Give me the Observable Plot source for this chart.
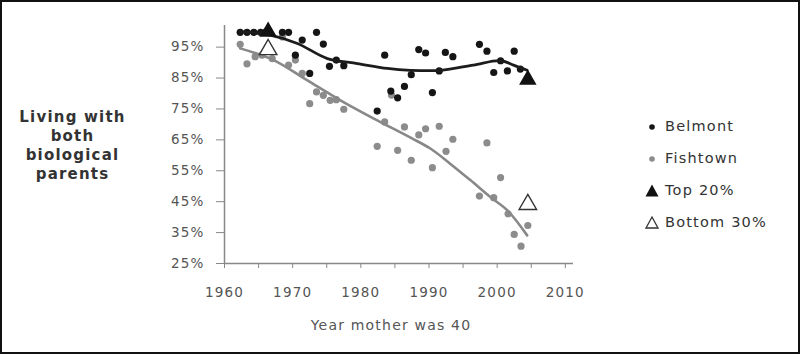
<!DOCTYPE html>
<html>
<head>
<meta charset="utf-8">
<script src="https://cdn.jsdelivr.net/npm/d3@7"></script>
<script src="https://cdn.jsdelivr.net/npm/@observablehq/plot@0.6"></script>
<style>
  html, body { margin: 0; padding: 0; background: #fff; }
  #wrap { position: relative; width: 800px; height: 354px; overflow: hidden; background: #fff; }
  #frame { position: absolute; left: 0; top: 0; width: 800px; height: 354px; box-sizing: border-box; border: 2px solid #111; pointer-events: none; }
  #wrap svg text { letter-spacing: 1.2px; }
  #legend { position: absolute; left: 643px; top: 116px; font-family: "DejaVu Sans", sans-serif; font-size: 14.5px; color: #333; letter-spacing: 1.2px; }
  .item { position: relative; height: 32px; line-height: 20px; }
  .item svg { position: absolute; left: 0; top: 2px; }
  .item span { position: absolute; left: 22px; top: 0; white-space: nowrap; }
</style>
</head>
<body>
<div id="wrap"></div>
<script>
// Belmont (year mother was 40, % living with both biological parents)
const belmontYear = [1962.3,1963.3,1964.3,1965.3,1966.0,1968.5,1969.4,1971.4,1973.5,1974.5,1970.4,1972.5,1975.4,1976.4,1977.5,1983.5,1982.4,1984.4,1985.4,1986.4,1987.4,1988.5,1989.5,1990.5,1991.5,1992.4,1993.5,1997.4,1998.5,1999.5,2000.5,2001.5,2002.5,2003.4];
const belmontPct  = [99.8,99.8,99.8,99.8,99.8,99.8,99.8,97.3,99.8,96.0,92.4,86.5,88.8,90.8,89.0,92.4,74.3,80.8,78.6,82.3,86.1,94.2,93.1,80.3,87.3,93.3,91.9,95.9,93.7,86.8,90.6,87.3,93.7,87.9];

// Fishtown
const fishYear = [1962.3,1963.3,1964.5,1965.5,1967.0,1968.5,1969.4,1970.4,1971.4,1972.5,1973.5,1974.5,1975.5,1976.4,1977.5,1982.4,1983.5,1984.5,1985.4,1986.4,1987.4,1988.5,1989.5,1990.5,1991.5,1992.5,1993.5,1997.4,1998.5,1999.5,2000.5,2001.6,2002.5,2003.5,2004.5];
const fishPct  = [95.9,89.6,91.9,92.4,91.3,98.3,89.2,90.8,86.5,76.7,80.5,79.4,77.8,78.0,74.9,62.9,70.8,79.5,61.6,69.2,58.4,66.6,68.6,56.0,69.4,61.3,65.2,46.8,64.0,46.3,52.8,41.1,34.4,30.6,37.3];

// Trend lines
const belmontTrendYear = [1962.3,1966.7,1970.7,1975.1,1979.5,1983.9,1987.3,1991.7,1996.5,2000.5,2002.4,2004.4];
const belmontTrendPct  = [100.0,98.9,96.2,91.3,89.7,88.1,87.5,87.5,89.2,90.6,89.2,87.5];
const fishTrendYear = [1962.3,1967.2,1972.1,1977.0,1981.9,1987.3,1990.2,1993.1,1996.1,1999.0,2001.5,2004.4];
const fishTrendPct  = [94.6,90.8,84.3,77.8,71.9,65.7,62.2,57.3,51.9,46.5,42.2,34.1];

// National benchmarks
const top20Year = [1966.4, 2004.5];
const top20Pct  = [100.0, 84.5];
const bottom30Year = [1966.4, 2004.5];
const bottom30Pct  = [94.2, 44.1];

// Axes
const yTicks = [25,35,45,55,65,75,85,95];
const xTicks = [1960,1965,1970,1975,1980,1985,1990,1995,2000,2005,2010];
const yLabel = "Living with\nboth\nbiological\nparents";
const xLabel = "Year mother was 40";
const legendNames = ["Belmont","Fishtown","Top 20%","Bottom 30%"];

const zip = (xs, ys) => xs.map((x, i) => ({x, y: ys[i]}));
const belmont = zip(belmontYear, belmontPct);
const fish = zip(fishYear, fishPct);
const belmontTrend = zip(belmontTrendYear, belmontTrendPct);
const fishTrend = zip(fishTrendYear, fishTrendPct);
const top20 = zip(top20Year, top20Pct);
const bottom30 = zip(bottom30Year, bottom30Pct);

const axisColor = "#888";
const textColor = "#555";

const plot = Plot.plot({
  width: 800,
  height: 354,
  marginLeft: 224,
  marginRight: 227,
  marginTop: 25,
  marginBottom: 91,
  style: {fontFamily: "DejaVu Sans, sans-serif", fontSize: "13.5px", color: textColor, background: "transparent"},
  x: {domain: [1960, 2011.2]},
  y: {domain: [25, 102]},
  marks: [
    Plot.ruleY([25], {x1: 1960, x2: 2011.2, stroke: axisColor, strokeWidth: 1.5}),
    Plot.ruleX([1960], {y1: 25, y2: 102, stroke: axisColor, strokeWidth: 1.5}),
    Plot.axisY({ticks: yTicks, tickFormat: d => d + "%", tickSize: 8, tickPadding: 12, label: null, stroke: axisColor, fill: textColor}),
    Plot.axisX({ticks: xTicks, tickFormat: d => d % 10 === 0 ? String(d) : "", tickSize: 5, tickPadding: 19, label: null, stroke: axisColor, fill: textColor}),
    Plot.text([xLabel], {frameAnchor: "bottom", dx: -8, dy: 66, fontSize: 14, fill: textColor, textAnchor: "middle"}),
    Plot.text([yLabel], {frameAnchor: "left", dx: -152, dy: 0, fontSize: 15, fontWeight: "bold", fill: "#333", textAnchor: "middle", lineHeight: 1.27}),
    Plot.dot(fish, {x: "x", y: "y", r: 3.6, fill: "#8c8c8c", stroke: "none"}),
    Plot.line(fishTrend, {x: "x", y: "y", stroke: "#888", strokeWidth: 2.6, curve: "catmull-rom"}),
    Plot.dot(belmont, {x: "x", y: "y", r: 3.6, fill: "#151515", stroke: "none"}),
    Plot.line(belmontTrend, {x: "x", y: "y", stroke: "#1c1c1c", strokeWidth: 2.8, curve: "catmull-rom"}),
    Plot.dot(top20, {x: "x", y: "y", symbol: "triangle", r: 6.5, fill: "#111", stroke: "none"}),
    Plot.dot(bottom30, {x: "x", y: "y", symbol: "triangle", r: 6.5, fill: "#fff", stroke: "#333", strokeWidth: 1.4})
  ]
});

const wrap = document.getElementById("wrap");
wrap.appendChild(plot);

// Legend
const legend = document.createElement("div");
legend.id = "legend";
const markers = [
  '<svg width="18" height="18"><circle cx="9" cy="9" r="2.8" fill="#151515"/></svg>',
  '<svg width="18" height="18"><circle cx="9" cy="9" r="2.8" fill="#8c8c8c"/></svg>',
  '<svg width="18" height="18"><path d="M9,2.5 L15.5,14.5 L2.5,14.5 Z" fill="#111"/></svg>',
  '<svg width="18" height="18"><path d="M9,3 L15,14 L3,14 Z" fill="#fff" stroke="#333" stroke-width="1.3"/></svg>'
];
legendNames.forEach((name, i) => {
  const it = document.createElement("div");
  it.className = "item";
  it.innerHTML = markers[i] + "<span>" + name + "</span>";
  legend.appendChild(it);
});
wrap.appendChild(legend);

const frame = document.createElement("div");
frame.id = "frame";
wrap.appendChild(frame);
</script>
</body>
</html>
